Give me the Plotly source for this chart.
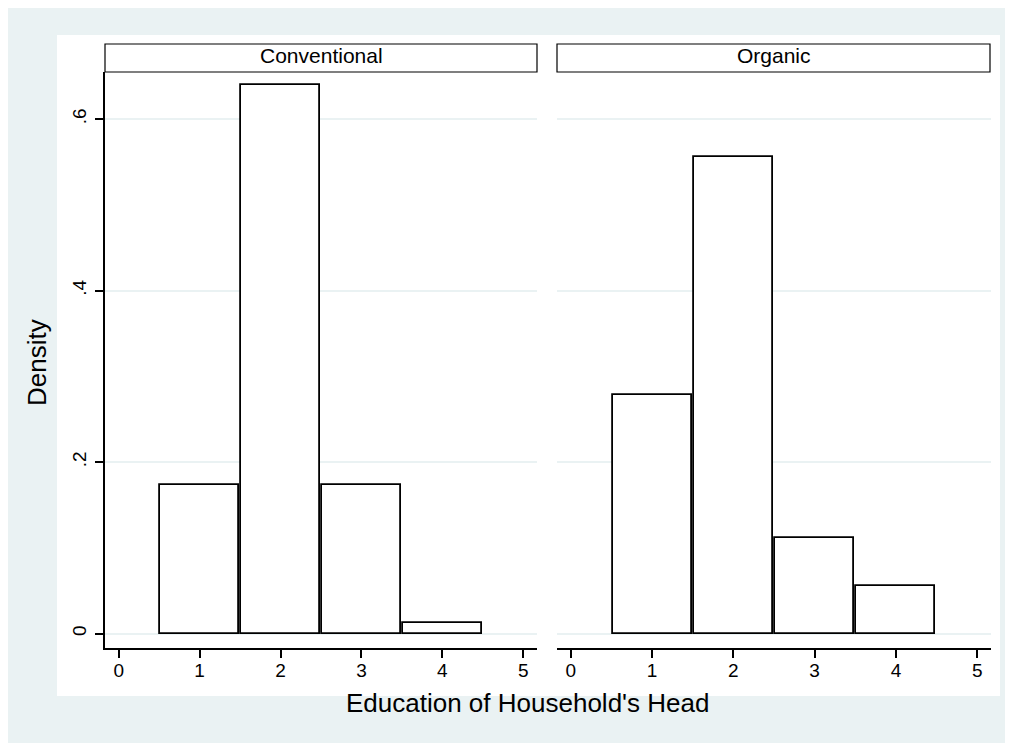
import plotly.graph_objects as go

# ---- data ----
categories = [1, 2, 3, 4]
conventional = [0.173, 0.640, 0.173, 0.013]
organic = [0.278, 0.556, 0.111, 0.056]
panel_titles = ["Conventional", "Organic"]
x_ticks = [0, 1, 2, 3, 4, 5]
y_ticks = [0, 0.2, 0.4, 0.6]
y_ticktext = ["0", ".2", ".4", ".6"]
x_title = "Education of Household's Head"
y_title = "Density"

W, H = 1013, 743
OFF = 8  # page body margin
FONT = "Liberation Sans, Arial, sans-serif"
BG = "#EAF2F3"


def fx(px):
    return (px - OFF) / W


def fy(py):
    return 1 - (py - OFF) / H


fig = go.Figure()

bar_style = dict(marker=dict(color="white", line=dict(color="black", width=1.8)),
                 width=0.97, showlegend=False, hoverinfo="skip")
fig.add_trace(go.Bar(x=categories, y=conventional, xaxis="x", yaxis="y", **bar_style))
fig.add_trace(go.Bar(x=categories, y=organic, xaxis="x2", yaxis="y2", **bar_style))

y_dom = [fy(648), fy(72)]
xcommon = dict(range=[-0.17, 5.17], tickvals=x_ticks, ticks="outside", ticklen=8,
               tickwidth=1.5, tickcolor="black", showline=True, linecolor="black",
               linewidth=1.5, showgrid=False, zeroline=False, ticklabelstandoff=-4,
               tickfont=dict(family=FONT, size=19, color="black"))
fig.update_layout(
    width=W, height=H,
    margin=dict(l=0, r=0, t=0, b=0),
    paper_bgcolor=BG,
    plot_bgcolor="white",
    bargap=0,
    xaxis=dict(domain=[fx(105), fx(537)], anchor="y", **xcommon),
    xaxis2=dict(domain=[fx(557), fx(991)], anchor="y2", **xcommon),
    yaxis=dict(domain=y_dom, anchor="x", range=[-0.0167, 0.655], tickvals=y_ticks,
               ticktext=y_ticktext, tickangle=-90, ticks="outside", ticklen=8,
               tickwidth=1.5, tickcolor="black", showline=True, linecolor="black",
               linewidth=1.5, showgrid=True, gridcolor=BG, gridwidth=1.5,
               zeroline=False, ticklabelstandoff=2,
               tickfont=dict(family=FONT, size=19, color="black")),
    yaxis2=dict(domain=y_dom, anchor="x2", matches="y", tickvals=y_ticks,
                showticklabels=False, ticks="", showline=False, showgrid=True,
                gridcolor=BG, gridwidth=1.5, zeroline=False),
)

shapes = [
    dict(type="rect", xref="paper", yref="paper", x0=fx(57), x1=fx(1000), y0=fy(696), y1=fy(35),
         fillcolor="white", line=dict(width=0), layer="below"),
]
annotations = []
for (x0, x1), title in zip([(105, 537), (557, 990)], panel_titles):
    shapes.append(dict(type="rect", xref="paper", yref="paper", x0=fx(x0), x1=fx(x1),
                       y0=fy(72), y1=fy(44), fillcolor="white",
                       line=dict(color="black", width=1.2), layer="above"))
    annotations.append(dict(xref="paper", yref="paper", x=fx((x0 + x1) / 2), y=fy(56),
                            text=title, showarrow=False, xanchor="center", yanchor="middle",
                            font=dict(family=FONT, size=21, color="black")))

annotations.append(dict(xref="paper", yref="paper", x=fx(527), y=fy(703), text=x_title,
                        showarrow=False, xanchor="center", yanchor="middle",
                        font=dict(family=FONT, size=26, color="black")))
annotations.append(dict(xref="paper", yref="paper", x=fx(37), y=fy(363), text=y_title,
                        showarrow=False, textangle=-90, xanchor="center", yanchor="middle",
                        font=dict(family=FONT, size=26, color="black")))

fig.update_layout(shapes=shapes, annotations=annotations)
fig.write_html("out.html")
